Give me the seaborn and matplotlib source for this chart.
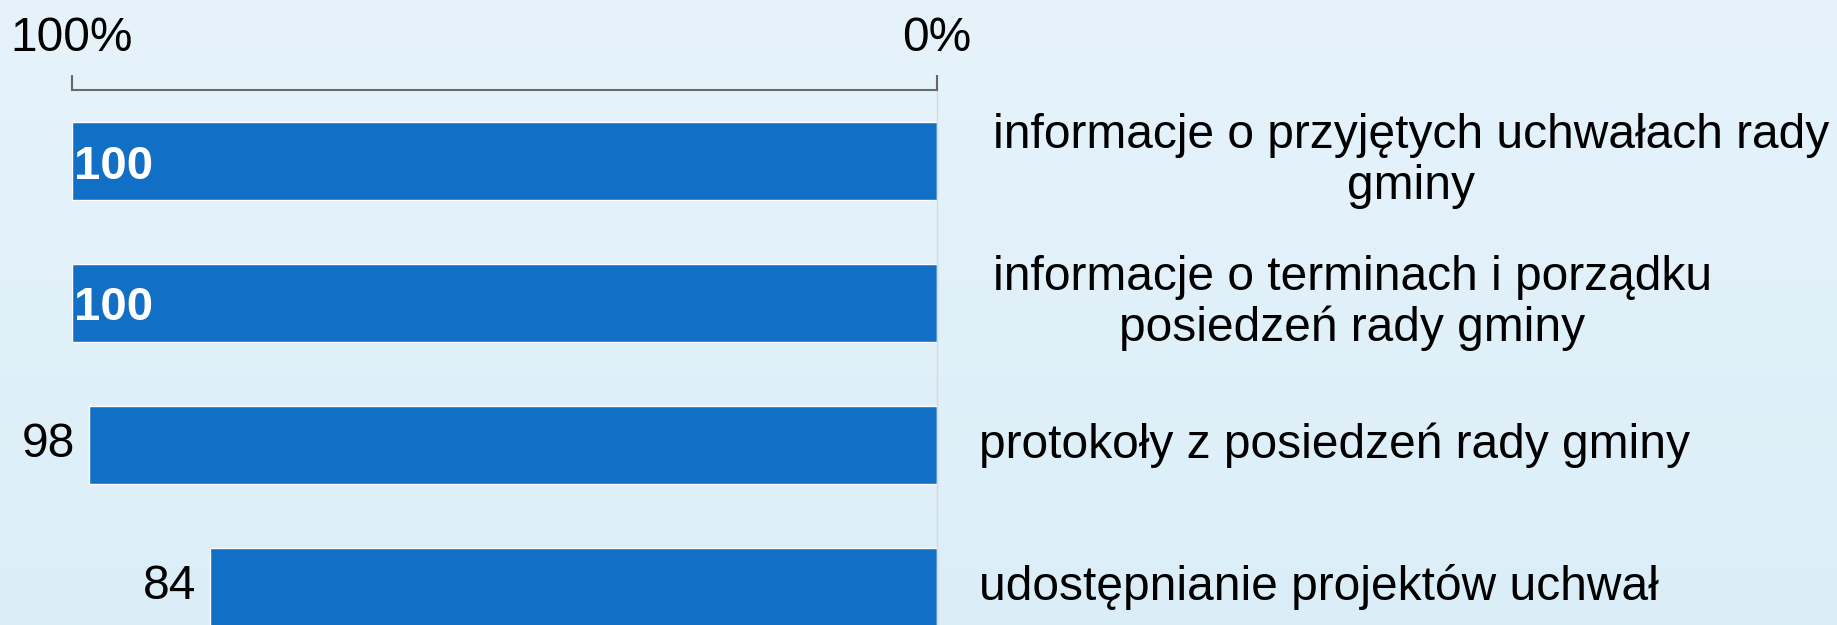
import numpy as np
import pandas as pd
import matplotlib.pyplot as plt
import seaborn as sns

categories = [
    "informacje o przyjętych uchwałach rady\ngminy",
    "informacje o terminach i porządku\nposiedzeń rady gminy",
    "protokoły z posiedzeń rady gminy",
    "udostępnianie projektów uchwał",
]
values = [100, 100, 98, 84]
tick_values = [100, 0]
tick_labels = ["100%", "0%"]

sns.set_theme(style="white")
plt.rcParams['font.family'] = ['Liberation Sans', 'DejaVu Sans']

fig = plt.figure(figsize=(18.37, 6.25), dpi=100)

# background gradient
bg = fig.add_axes([0, 0, 1, 1], zorder=-1)
top = np.array([0xe6, 0xf3, 0xfb]) / 255
bot = np.array([0xdb, 0xee, 0xf8]) / 255
t = np.linspace(0, 1, 256)[:, None, None]
bg.imshow(top + (bot - top) * t, aspect='auto', extent=[0, 1, 0, 1])
bg.axis('off')

ax = fig.add_axes([71.5 / 1837, 0, (937 - 71.5) / 1837, 1 - 90 / 625])
ax.patch.set_alpha(0)

df = pd.DataFrame({'kategoria': categories, 'wartosc': values})
sns.barplot(data=df, x='wartosc', y='kategoria', orient='h', color='#1170c6',
            saturation=1, width=0.55, ax=ax)

ax.set_xlim(100, 0)
ax.set_ylim(3.27, -0.5)
ax.set_xlabel('')
ax.set_ylabel('')
ax.set_yticks([])

ax.xaxis.tick_top()
ax.set_xticks(tick_values)
ax.set_xticklabels(tick_labels)
ax.tick_params(axis='x', direction='out', length=11, width=1.5, color='#666666',
               pad=10, labelsize=34.5, labelcolor='black')

for side in ['left', 'bottom']:
    ax.spines[side].set_visible(False)
ax.spines['top'].set_color('#6a6a6a')
ax.spines['top'].set_linewidth(1.5)
ax.spines['right'].set_color('#d9d9d9')
ax.spines['right'].set_linewidth(1)

# value labels
for i, v in enumerate(values):
    if v == 100:
        ax.annotate(str(v), (v, i), xytext=(2, -4), textcoords='offset points',
                    ha='left', va='center', fontsize=34, fontweight='bold', color='white')
    else:
        ax.annotate(str(v), (v, i), xytext=(-10, 0), textcoords='offset points',
                    ha='right', va='center', fontsize=34.5, color='black')

# category labels on the right
for i, lab in enumerate(categories):
    x = 1.0647 if '\n' in lab else 1.0485
    ax.text(x, i, lab, transform=ax.get_yaxis_transform(), ha='left', va='center',
            multialignment='center', fontsize=34.5, linespacing=1.17, color='black')

plt.savefig('out.png', dpi=100)
plt.close()
